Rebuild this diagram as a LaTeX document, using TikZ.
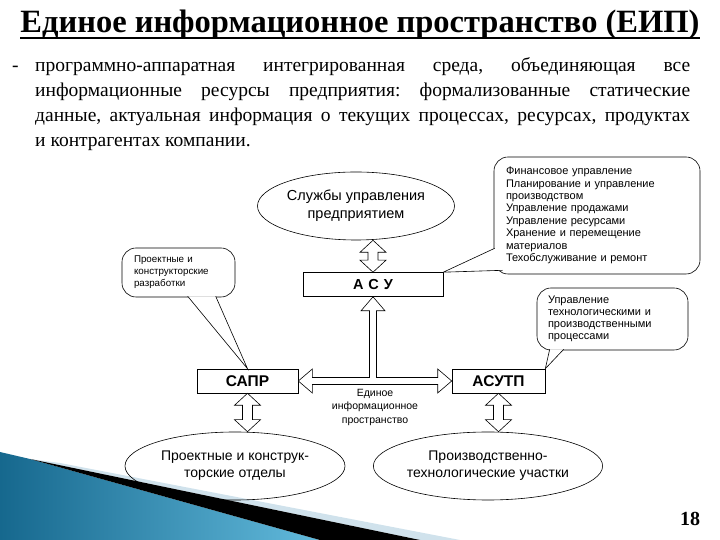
\documentclass[tikz,border=0pt]{standalone}
\usepackage{fontspec}
\setmainfont{Liberation Serif}
\setsansfont{Liberation Sans}
\usetikzlibrary{shapes.geometric,calc}
\definecolor{slidedeep}{RGB}{22,104,142}
\definecolor{slidesky}{RGB}{98,186,220}
\definecolor{slidepale}{RGB}{208,226,236}
\begin{document}
\begin{tikzpicture}[x=1pt, y=1pt,
    box/.style={draw, line width=0.6pt, minimum height=24pt, inner sep=0pt,
      font=\sffamily\bfseries\fontsize{15.5}{16}\selectfont},
    unit/.style={draw, ellipse, line width=0.6pt, inner sep=0pt, minimum height=68pt,
      align=center, font=\sffamily\fontsize{14}{17}\selectfont},
    bubble/.style={draw, line width=0.6pt, rounded corners=14pt, fill=white, inner ysep=0pt,
      align=left, font=\sffamily\fontsize{11}{12.4}\selectfont},
    hollow/.style={draw, fill=white, line width=0.6pt, line join=miter},
    tailside/.style={line width=0.6pt, line join=miter}]
  \useasboundingbox (0,0) rectangle (720,540);
  % A hollow arrow with a head at both ends: #1 = upper end, #2 = lower end.
  \newcommand{\updown}[2]{%
    \draw[hollow] let \p1=(#1), \p2=(#2) in
      (\p1) -- (\x1+13pt,\y1-12pt) -- (\x1+5pt,\y1-12pt) -- (\x1+5pt,\y2+12pt)
      -- (\x1+13pt,\y2+12pt) -- (\x1,\y2) -- (\x1-13pt,\y2+12pt) -- (\x1-5pt,\y2+12pt)
      -- (\x1-5pt,\y1-12pt) -- (\x1-13pt,\y1-12pt) -- cycle;}
  % The tail of a callout: #1, #2 = ends on the callout, #3 = tip.
  \newcommand{\calltail}[3]{%
    \fill[white] (#1) -- (#3) -- (#2) -- cycle;
    \draw[tailside] (#1) -- (#3) -- (#2);}

  % corner of the slide
  \shade[left color=slidedeep, right color=slidesky] (0,88) -- (30,81) -- (320,0) -- (0,0) -- cycle;
  \fill[slidepale] (60,77) -- (460,0) -- (420,0) -- (30,81) -- cycle;
  \fill[black] (30,81) -- (420,0) -- (320,0) -- cycle;

  \node[inner sep=0pt, anchor=base, font=\bfseries\fontsize{32.5}{33}\selectfont]
    (title) at (360,507) {Единое информационное пространство (ЕИП)};
  \draw[line width=1.6pt] ([yshift=-5pt]title.base west) -- ([yshift=-5pt]title.base east);
  \node[inner sep=0pt, anchor=north west, text width=655pt, align=justify,
    font=\fontsize{19.5}{25}\selectfont] (intro) at (35,483)
    {\frenchspacing\noindent\llap{\makebox[23pt][l]{-}}программно-аппаратная
     интегрированная среда, объединяющая все\linebreak информационные ресурсы
     предприятия: формализованные статические\linebreak данные, актуальная
     информация о текущих процессах, ресурсах, продуктах\linebreak и контрагентах
     компании.};

  \node[unit, minimum width=197pt, font=\sffamily\fontsize{14.5}{18}\selectfont]
    (services) at (356,334) {Службы управления\\предприятием};
  \node[box, minimum width=140pt, font=\sffamily\bfseries\fontsize{14.5}{15}\selectfont]
    (asu) at (373,255.5) {А\,\,С\,\,У};
  \node[box, minimum width=101pt] (sapr) at (247.5,159) {САПР};
  \node[box, minimum width=93pt] (asutp) at (498.5,159) {АСУТП};
  \node[unit, minimum width=220pt] (design) at (235,74) {Проектные и конструк-\\торские отделы};
  \node[unit, minimum width=204pt] (shops) at (488,74) {Производственно-\\технологические участки};
  \node[align=center, inner sep=0pt, font=\sffamily\fontsize{10.5}{13.5}\selectfont]
    (space) at (375,133) {Единое\\информационное\\пространство};

  \node[bubble, text width=182pt, inner xsep=12pt, minimum height=117pt]
    (mgmt) at (597,324.5) {Финансовое управление\\Планирование и управление\\производством\\
      Управление продажами\\Управление ресурсами\\Хранение и перемещение\\материалов\\
      Техобслуживание и ремонт};
  \node[bubble, text width=89pt, inner xsep=12pt, minimum height=49pt,
    font=\sffamily\fontsize{9.8}{12}\selectfont]
    (cad) at (178.5,267.5) {Проектные и\\конструкторские\\разработки};
  \node[bubble, text width=129pt, inner xsep=11pt, minimum height=62pt,
    font=\sffamily\fontsize{11}{12}\selectfont]
    (tech) at (612.5,221) {Управление\\технологическими и\\производственными\\процессами};
  \calltail{$(mgmt.south west)+(1,26)$}{$(mgmt.south west)+(9,4)$}{asu.north east}
  \calltail{$(cad.south west)+(66,1)$}{$(cad.south west)+(94,1)$}{sapr.north}
  \calltail{$(tech.south west)+(13,1)$}{$(tech.south west)+(27,1)$}{asutp.north east}

  \updown{services.south -| asu.north}{asu.north}
  \updown{sapr.south}{sapr.south |- design.north}
  \updown{asutp.south}{asutp.south |- shops.north}
  % the common bus with its branch up to the АСУ
  \draw[hollow] let \p1=(sapr.east), \p2=(asutp.west), \p3=(asu.south) in
    (\p1) -- (\x1+14pt,\y1+12pt) -- (\x1+14pt,\y1+3.5pt) -- (\x3-3.5pt,\y1+3.5pt)
    -- (\x3-3.5pt,\y3-14pt) -- (\x3-12pt,\y3-14pt) -- (\p3) -- (\x3+12pt,\y3-14pt)
    -- (\x3+3.5pt,\y3-14pt) -- (\x3+3.5pt,\y1+3.5pt) -- (\x2-14pt,\y1+3.5pt)
    -- (\x2-14pt,\y1+12pt) -- (\p2) -- (\x2-14pt,\y1-12pt) -- (\x2-14pt,\y1-3.5pt)
    -- (\x1+14pt,\y1-3.5pt) -- (\x1+14pt,\y1-12pt) -- cycle;

  \node[font=\bfseries\fontsize{20}{20}\selectfont, inner sep=0pt] (page) at (690,21) {18};
\end{tikzpicture}
\end{document}
